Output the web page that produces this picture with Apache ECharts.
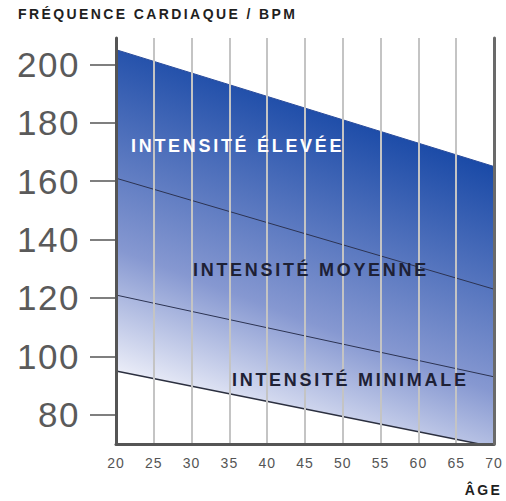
<!DOCTYPE html>
<html>
<head>
<meta charset="utf-8">
<script src="https://cdn.jsdelivr.net/npm/echarts@6/dist/echarts.min.js"></script>
<style>
  html, body { margin: 0; padding: 0; background: #fff; }
  #chart { width: 506px; height: 501px; }
  /* spaced-out lettering like the print original */
  #chart text[style*="18px"] { letter-spacing: 2.7px; }
  #chart text[style*="14px"][style*="bold"] { letter-spacing: 2.4px; }
  #chart text[style*="14px"]:not([style*="bold"]) { letter-spacing: 1px; }
  #chart text[style*="35px"] { letter-spacing: 1.5px; }
</style>
</head>
<body>
<div id="chart"></div>
<script>
const ages = [20, 70];
const maxZone = [205, 165];      // haut de la zone élevée
const highZone = [161, 123];     // limite élevée / moyenne
const midZone = [121, 93];       // limite moyenne / minimale
const lowZone = [95, 69];        // bas de la zone minimale
const yTicks = [80, 100, 120, 140, 160, 180, 200];

const font = "'Liberation Sans', Arial, sans-serif";
const pairs = vals => ages.map((a, i) => [a, vals[i]]);

const chart = echarts.init(document.getElementById('chart'), null, { renderer: 'svg' });

const fill = new echarts.graphic.LinearGradient(0, 0.84, 0.29, 0.04, [
  { offset: 0, color: '#f3f4fb' },
  { offset: 0.37, color: '#8698d1' },
  { offset: 1, color: '#1a4aa7' }
]);

chart.setOption({
  animation: false,
  title: [
    {
      text: 'FRÉQUENCE CARDIAQUE / BPM',
      left: 18, top: 7, padding: 0,
      textStyle: { fontSize: 14, fontWeight: 'bold', fontFamily: font, color: '#1f1f1f' }
    },
    {
      text: 'ÂGE',
      right: 11, top: 483, padding: 0,
      textStyle: { fontSize: 14, fontWeight: 'bold', fontFamily: font, color: '#1f1f1f' }
    }
  ],
  grid: { left: 116, right: 12, top: 38, bottom: 57 },
  xAxis: {
    type: 'value',
    min: 20, max: 70, interval: 5,
    z: 3,
    axisLine: { lineStyle: { color: '#555', width: 3 } },
    axisTick: { show: false },
    axisLabel: { margin: 12, fontSize: 14, fontFamily: font, color: '#555' },
    splitLine: { show: true, lineStyle: { color: '#c4c4c4', width: 2 } }
  },
  yAxis: [
    {
      type: 'value',
      min: 70, max: 209,
      z: 4,
      axisLine: { show: true, lineStyle: { color: '#555', width: 3 } },
      axisTick: { show: true, length: 26, customValues: yTicks, lineStyle: { color: '#555', width: 1.5 } },
      axisLabel: { margin: 36, customValues: yTicks, fontSize: 35, fontFamily: font, color: '#5a5a5a' },
      splitLine: { show: false }
    },
    {
      type: 'value',
      position: 'right',
      min: 70, max: 209,
      z: 4,
      axisLine: { show: true, lineStyle: { color: '#6a6a6a', width: 3 } },
      axisTick: { show: false },
      axisLabel: { show: false },
      splitLine: { show: false }
    }
  ],
  series: [
    {
      type: 'line', z: 1,
      data: pairs(maxZone),
      symbol: 'none',
      lineStyle: { color: '#2a4c9c', width: 1 },
      areaStyle: { origin: 'start', color: fill, opacity: 1 }
    },
    {
      type: 'line', z: 2,
      data: pairs(lowZone),
      symbol: 'none',
      lineStyle: { color: '#2b2f3f', width: 1.5 },
      areaStyle: { origin: 'start', color: '#fff', opacity: 1 }
    },
    {
      type: 'line', z: 2,
      data: pairs(highZone),
      symbol: 'none',
      lineStyle: { color: '#2c3352', width: 1 }
    },
    {
      type: 'line', z: 2,
      data: pairs(midZone),
      symbol: 'none',
      lineStyle: { color: '#2c3352', width: 1 }
    }
  ],
  graphic: [
    {
      type: 'text', left: 131, top: 137, z: 10,
      style: { text: 'INTENSITÉ ÉLEVÉE', fontSize: 18, fontWeight: 'bold', fontFamily: font, fill: '#ffffff' }
    },
    {
      type: 'text', left: 193, top: 261, z: 10,
      style: { text: 'INTENSITÉ MOYENNE', fontSize: 18, fontWeight: 'bold', fontFamily: font, fill: '#1e2135' }
    },
    {
      type: 'text', left: 232, top: 371, z: 10,
      style: { text: 'INTENSITÉ MINIMALE', fontSize: 18, fontWeight: 'bold', fontFamily: font, fill: '#1e2135' }
    }
  ]
});
</script>
</body>
</html>
